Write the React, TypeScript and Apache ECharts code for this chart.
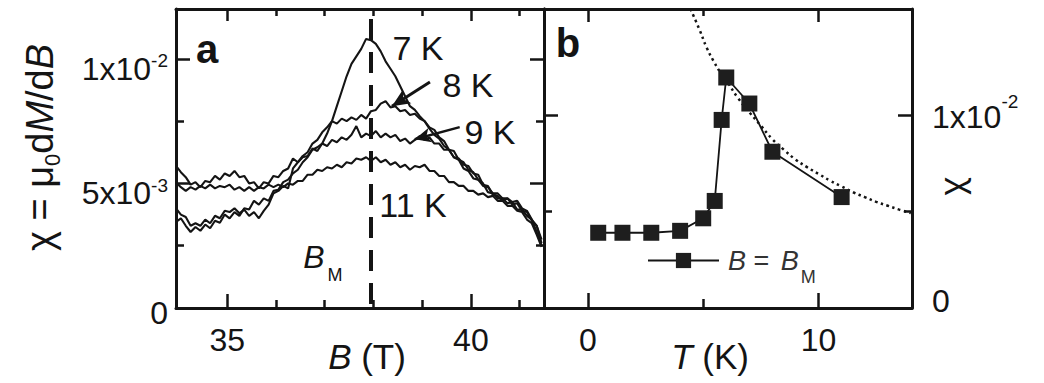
import React, { useEffect, useRef } from 'react';
import * as echarts from 'echarts';

const INK = '#141414';
const FONT = '"Liberation Sans", Arial, Helvetica, sans-serif';

// Panel a: field sweep (T) shared by every dM/dB trace
const FIELD = [
  33.95, 34.05, 34.15, 34.25, 34.35, 34.45, 34.55, 34.65, 34.75, 34.85,
  34.95, 35.05, 35.15, 35.25, 35.35, 35.45, 35.55, 35.65, 35.75, 35.85,
  35.95, 36.05, 36.15, 36.25, 36.35, 36.45, 36.55, 36.65, 36.75, 36.85,
  36.95, 37.05, 37.15, 37.25, 37.35, 37.45, 37.55, 37.65, 37.75, 37.85,
  37.95, 38.05, 38.15, 38.25, 38.35, 38.45, 38.55, 38.65, 38.75, 38.85,
  38.95, 39.05, 39.15, 39.25, 39.35, 39.45, 39.55, 39.65, 39.75, 39.85,
  39.95, 40.05, 40.15, 40.25, 40.35, 40.45, 40.55, 40.65, 40.75, 40.85,
  40.95, 41.05, 41.15, 41.25, 41.35, 41.45,
];

// χ = μ0 dM/dB in units of 1e-3
const CHI_7K = [
  3.45, 3.6, 3.3, 3.05, 3.25, 3.1, 3.35, 3.2, 3.5, 3.42,
  3.75, 3.6, 3.85, 3.7, 4.0, 3.95, 4.3, 4.15, 4.4, 4.3,
  4.7, 4.75, 5.05, 5.15, 5.4, 5.55, 5.85, 6.05, 6.35, 6.45,
  6.6, 7.0, 7.5, 8.1, 8.7, 9.3, 9.8, 10.1, 10.4, 10.8,
  10.75, 10.6, 10.3, 9.9, 9.6, 9.3, 8.9, 8.5, 8.1, 7.95,
  7.7, 7.5, 7.2, 6.95, 6.8, 6.5, 6.35, 6.05, 5.95, 5.6,
  5.5, 5.2, 5.15, 4.9, 4.85, 4.6, 4.6, 4.4, 4.4, 4.25,
  4.3, 4.0, 3.9, 3.55, 3.3, 2.6,
];
const CHI_8K = [
  4.0, 3.75, 3.65, 3.3, 3.4, 3.3, 3.55, 3.4, 3.7, 3.6,
  3.9, 3.85, 4.0, 3.8, 3.95, 3.7, 3.85, 3.6, 3.9, 4.15,
  4.6, 4.7, 4.9, 4.8, 5.6, 5.85, 6.1, 6.25, 6.6, 6.75,
  7.05, 7.25, 7.5, 7.4, 7.6, 7.5, 7.65, 7.55, 7.75, 7.6,
  7.9, 7.95, 8.2, 8.3, 8.05, 8.1, 7.9, 7.95, 7.75, 7.8,
  7.6, 7.5, 7.25, 7.15, 6.85, 6.7, 6.35, 6.3, 5.95, 5.85,
  5.55, 5.45, 5.15, 5.0, 4.65, 4.6, 4.4, 4.4, 4.2, 4.25,
  3.95, 3.95, 3.7, 3.55, 3.05, 2.5,
];
const CHI_9K = [
  5.7, 5.45, 5.25, 4.95, 5.05, 4.85, 5.1, 5.05, 5.3, 5.15,
  5.4, 5.3, 5.5, 5.25, 5.3, 5.0, 5.05, 4.8, 5.05, 5.0,
  5.3, 5.25, 5.5, 5.6, 6.0, 5.85, 6.05, 6.1, 6.4, 6.3,
  6.6, 6.5, 6.75, 6.65, 6.85, 6.75, 6.95, 7.3, 6.85, 7.0,
  6.9, 7.1, 6.85, 7.0, 6.85, 6.95, 6.7, 6.8, 6.6, 6.75,
  6.9, 6.75, 6.85, 6.6, 6.6, 6.35, 6.35, 6.05, 6.0, 5.75,
  5.7, 5.4, 5.35, 4.95, 4.9, 4.55, 4.5, 4.3, 4.4, 4.15,
  4.2, 3.9, 3.85, 3.5, 3.3, 2.75,
];
const CHI_11K = [
  5.05, 4.85, 4.7, 4.85, 4.75, 4.9, 4.8, 4.95, 4.8, 4.9,
  4.85, 4.95, 4.75, 4.85, 4.7, 4.85, 4.7, 4.85, 4.8, 4.95,
  4.85, 4.95, 4.85, 5.0, 4.95, 5.1, 5.1, 5.35, 5.35, 5.55,
  5.5, 5.65, 5.6, 5.75, 5.65, 5.85, 5.8, 6.0, 5.95, 6.05,
  5.9, 6.05, 5.85, 5.95, 5.75, 5.85, 5.65, 5.75, 5.55, 5.7,
  5.65, 5.75, 5.5, 5.5, 5.3, 5.3, 5.05, 5.05, 4.9, 4.9,
  4.7, 4.7, 4.55, 4.6, 4.45, 4.5, 4.3, 4.3, 4.1, 4.1,
  3.9, 3.85, 3.55, 3.4, 2.95, 2.45,
];

// Field of the susceptibility maximum (T) and the top of its marker (1e-3)
const B_M = 37.95;
const B_M_TOP = 11.6;

// Arrows tying the 8 K and 9 K labels to their traces: [from, to] in (B, χ)
const ARROW_8K = [[39.16, 9.07], [38.38, 8.1]];
const ARROW_9K = [[39.77, 7.26], [38.85, 6.77]];

// Panel b: χ at B = B_M versus temperature
const TEMP = [0.45, 1.5, 2.75, 4.0, 5.0, 5.5, 5.8, 6.0, 7.0, 8.0, 11.0];
const CHI_AT_BM = [3.9, 3.9, 3.9, 4.0, 4.65, 5.55, 9.75, 11.95, 10.6, 8.1, 5.75];

// Dotted high-temperature guide
const GUIDE_TEMP = [4.45, 4.85, 5.15, 5.45, 5.75, 6.0, 6.5, 7.0, 7.5, 8.0, 8.5, 9.0, 9.5, 10.0, 10.5, 11.0, 11.5, 12.0, 12.5, 13.0, 13.5, 14.0];
const GUIDE_CHI = [15.5, 14.4, 13.5, 12.8, 12.2, 11.8, 10.9, 10.15, 9.45, 8.75, 8.2, 7.7, 7.3, 6.95, 6.6, 6.3, 6.0, 5.75, 5.5, 5.3, 5.1, 4.92];

// Axis ranges and ticks
const B_RANGE = [33.95, 41.5];
const B_MAJOR = [35, 40];
const B_MINOR = [36, 37, 38, 39, 41];
const T_RANGE = [-1.9, 14.05];
const T_MAJOR = [0, 10];
const T_MINOR = [5];
const CHI_A_RANGE = [0, 12];
const CHI_A_LABELS = [0, 5, 10];
const CHI_A_MAJOR = [5, 10];
const CHI_A_MINOR = [2.5, 7.5];
const CHI_B_RANGE = [0, 15.5];
const CHI_B_LABELS = [0, 10];
const CHI_B_MAJOR = [10];
const CHI_B_MINOR = [5];

const SERIES_B = 'B = BM';

function edgeAxis(o: { grid: number; pos: string; range: number[]; ticks: number[]; len: number; line?: boolean }) {
  return {
    type: 'value',
    gridIndex: o.grid,
    position: o.pos,
    min: o.range[0],
    max: o.range[1],
    axisLine: { show: !!o.line, onZero: false, lineStyle: { color: INK, width: 3 } },
    axisTick: { show: true, inside: true, length: o.len, customValues: o.ticks, lineStyle: { color: INK, width: 2.5 } },
    axisLabel: { show: false },
    splitLine: { show: false },
    nameMoveOverlap: false,
    z: 5,
  };
}

const tickLabel = { fontFamily: FONT, fontSize: 32, color: INK };
const titleStyle = { fontFamily: FONT, fontSize: 35, color: INK };
const yTitleStyle = { fontFamily: FONT, fontSize: 38, color: INK };

function buildOption() {
  const pairs = (xs: number[], ys: number[]) => xs.map((x, i) => [x, ys[i]]);
  const trace = (name: string, ys: number[], extra: any = {}) => ({
    name,
    type: 'line',
    xAxisIndex: 0,
    yAxisIndex: 0,
    data: pairs(FIELD, ys),
    showSymbol: false,
    symbol: 'none',
    lineStyle: { color: INK, width: 2.1 },
    z: 3,
    ...extra,
  });

  return {
    animation: false,
    backgroundColor: '#ffffff',
    grid: [
      { left: 176, top: 9, width: 368, height: 299, containLabel: false, outerBoundsMode: 'none' },
      { left: 544, top: 9, width: 368, height: 299, containLabel: false, outerBoundsMode: 'none' },
    ],
    xAxis: [
      {
        ...edgeAxis({ grid: 0, pos: 'bottom', range: B_RANGE, ticks: B_MAJOR, len: 14, line: true }),
        axisLabel: { show: true, customValues: B_MAJOR, margin: 16, ...tickLabel },
        name: '{i|B} (T)',
        nameLocation: 'middle',
        nameGap: 31,
        nameTextStyle: { ...titleStyle, padding: [0, 0, 0, 14], rich: { i: { ...titleStyle, fontStyle: 'italic' } } },
      },
      edgeAxis({ grid: 0, pos: 'bottom', range: B_RANGE, ticks: B_MINOR, len: 8 }),
      edgeAxis({ grid: 0, pos: 'top', range: B_RANGE, ticks: B_MAJOR, len: 12, line: true }),
      edgeAxis({ grid: 0, pos: 'top', range: B_RANGE, ticks: B_MINOR, len: 7 }),
      {
        ...edgeAxis({ grid: 1, pos: 'bottom', range: T_RANGE, ticks: T_MAJOR, len: 15, line: true }),
        axisLabel: { show: true, customValues: T_MAJOR, margin: 16, ...tickLabel },
        name: '{i|T} (K)',
        nameLocation: 'middle',
        nameGap: 31,
        nameTextStyle: { ...titleStyle, padding: [0, 36, 0, 0], rich: { i: { ...titleStyle, fontStyle: 'italic' } } },
      },
      edgeAxis({ grid: 1, pos: 'bottom', range: T_RANGE, ticks: T_MINOR, len: 9 }),
      edgeAxis({ grid: 1, pos: 'top', range: T_RANGE, ticks: T_MAJOR, len: 13, line: true }),
      edgeAxis({ grid: 1, pos: 'top', range: T_RANGE, ticks: T_MINOR, len: 7 }),
    ],
    yAxis: [
      {
        ...edgeAxis({ grid: 0, pos: 'left', range: CHI_A_RANGE, ticks: CHI_A_MAJOR, len: 14, line: true }),
        axisLabel: {
          show: true,
          customValues: CHI_A_LABELS,
          margin: 8,
          ...tickLabel,
          formatter: (v: number) => (v === 0 ? '{z|0}' : v === 5 ? '{d|5x10}{u|-3}' : '{d|1x10}{u|-2}'),
          rich: {
            d: { ...tickLabel, padding: [20, 0, 0, 0] },
            z: { ...tickLabel, padding: [10, 0, 0, 0] },
            u: { ...tickLabel, fontSize: 19, padding: [4, 0, 0, 0] },
          },
        },
        name: '{g|χ}{t| = }{g|μ}{s|0}{t|d}{i|M}{t|/d}{i|B}',
        nameLocation: 'middle',
        nameRotate: 90,
        nameGap: 113,
        nameTextStyle: {
          ...yTitleStyle,
          padding: [0, 0, 0, 22],
          rich: {
            g: { ...yTitleStyle },
            t: { ...yTitleStyle },
            i: { ...yTitleStyle, fontStyle: 'italic' },
            s: { ...yTitleStyle, fontSize: 22, padding: [24, 0, 0, 0] },
          },
        },
      },
      edgeAxis({ grid: 0, pos: 'left', range: CHI_A_RANGE, ticks: CHI_A_MINOR, len: 8 }),
      edgeAxis({ grid: 0, pos: 'right', range: CHI_A_RANGE, ticks: CHI_A_MAJOR, len: 14, line: true }),
      edgeAxis({ grid: 0, pos: 'right', range: CHI_A_RANGE, ticks: CHI_A_MINOR, len: 8 }),
      edgeAxis({ grid: 1, pos: 'left', range: CHI_B_RANGE, ticks: CHI_B_MAJOR, len: 14, line: true }),
      edgeAxis({ grid: 1, pos: 'left', range: CHI_B_RANGE, ticks: CHI_B_MINOR, len: 8 }),
      {
        ...edgeAxis({ grid: 1, pos: 'right', range: CHI_B_RANGE, ticks: CHI_B_MAJOR, len: 14, line: true }),
        axisLabel: {
          show: true,
          customValues: CHI_B_LABELS,
          margin: 20,
          ...tickLabel,
          formatter: (v: number) => (v === 0 ? '{z|0}' : '{d|1x10}{u|-2}'),
          rich: {
            d: { ...tickLabel, padding: [4, 0, 0, 0] },
            z: { ...tickLabel, padding: [0, 0, 14, 0] },
            u: { ...tickLabel, fontSize: 19, padding: [0, 0, 28, 0] },
          },
        },
        name: 'χ',
        nameLocation: 'middle',
        nameRotate: -90,
        nameGap: 35,
        nameTextStyle: { ...titleStyle, padding: [0, 0, 0, 56] },
      },
      edgeAxis({ grid: 1, pos: 'right', range: CHI_B_RANGE, ticks: CHI_B_MINOR, len: 8 }),
    ],
    legend: {
      data: [SERIES_B],
      left: 647,
      top: 247,
      padding: 0,
      itemWidth: 71,
      itemHeight: 19,
      selectedMode: false,
      formatter: () => '{i|B}{t| = }{i|B}{s|M}',
      textStyle: {
        fontFamily: FONT,
        fontSize: 27,
        color: '#333',
        rich: {
          i: { fontFamily: FONT, fontSize: 27, color: '#333', fontStyle: 'italic', padding: [0, 0, 0, 4] },
          t: { fontFamily: FONT, fontSize: 27, color: '#333' },
          s: { fontFamily: FONT, fontSize: 18, color: '#333', padding: [32, 0, 0, 2] },
        },
      },
    },
    series: [
      trace('7 K', CHI_7K, {
        markLine: {
          silent: true,
          symbol: ['none', 'none'],
          label: { show: false },
          data: [
            [
              { coord: [B_M, B_M_TOP], lineStyle: { color: INK, width: 4, type: [21, 12] } },
              { coord: [B_M, 0] },
            ],
            [
              { coord: ARROW_8K[0], symbol: 'none', lineStyle: { color: INK, width: 3, type: 'solid' } },
              { coord: ARROW_8K[1], symbol: 'arrow', symbolSize: [12, 18] },
            ],
            [
              { coord: ARROW_9K[0], symbol: 'none', lineStyle: { color: INK, width: 2.5, type: 'solid' } },
              { coord: ARROW_9K[1], symbol: 'arrow', symbolSize: [11, 16] },
            ],
          ],
        },
      }),
      trace('8 K', CHI_8K),
      trace('9 K', CHI_9K),
      trace('11 K', CHI_11K),
      {
        name: 'guide',
        type: 'line',
        xAxisIndex: 4,
        yAxisIndex: 4,
        data: pairs(GUIDE_TEMP, GUIDE_CHI),
        showSymbol: false,
        symbol: 'none',
        smooth: true,
        lineStyle: { color: INK, width: 2.5, type: [2.5, 3.5] },
        z: 2,
      },
      {
        name: SERIES_B,
        type: 'line',
        xAxisIndex: 4,
        yAxisIndex: 4,
        data: pairs(TEMP, CHI_AT_BM),
        symbol: 'rect',
        symbolSize: 16,
        itemStyle: { color: '#1e1e1e' },
        lineStyle: { color: INK, width: 1.8 },
        z: 4,
      },
    ],
    graphic: [
      txt('a', 207, 49, `bold 40px ${FONT}`),
      txt('b', 568, 43, `bold 40px ${FONT}`),
      txt('7 K', 418, 48, `34px ${FONT}`),
      txt('8 K', 468, 85, `34px ${FONT}`),
      txt('9 K', 490, 132, `34px ${FONT}`),
      txt('11 K', 413, 205, `34px ${FONT}`),
      txt('B', 314, 257, `italic 32px ${FONT}`),
      txt('M', 335, 275, `18px ${FONT}`),
    ],
  };
}

function txt(text: string, x: number, y: number, font: string) {
  return {
    type: 'text',
    x,
    y,
    z: 10,
    silent: true,
    style: {
      text,
      font,
      fill: INK,
      textAlign: 'center',
      textVerticalAlign: 'middle',
      align: 'center',
      verticalAlign: 'middle',
    },
  };
}

export default function App() {
  const ref = useRef<HTMLDivElement>(null);
  useEffect(() => {
    document.body.style.margin = '0';
    document.body.style.overflow = 'hidden';
    if (!ref.current) return;
    const chart = echarts.init(ref.current, undefined, { renderer: 'svg' });
    chart.setOption(buildOption() as any);
    return () => chart.dispose();
  }, []);
  return <div ref={ref} style={{ width: 1044, height: 383 }} />;
}
